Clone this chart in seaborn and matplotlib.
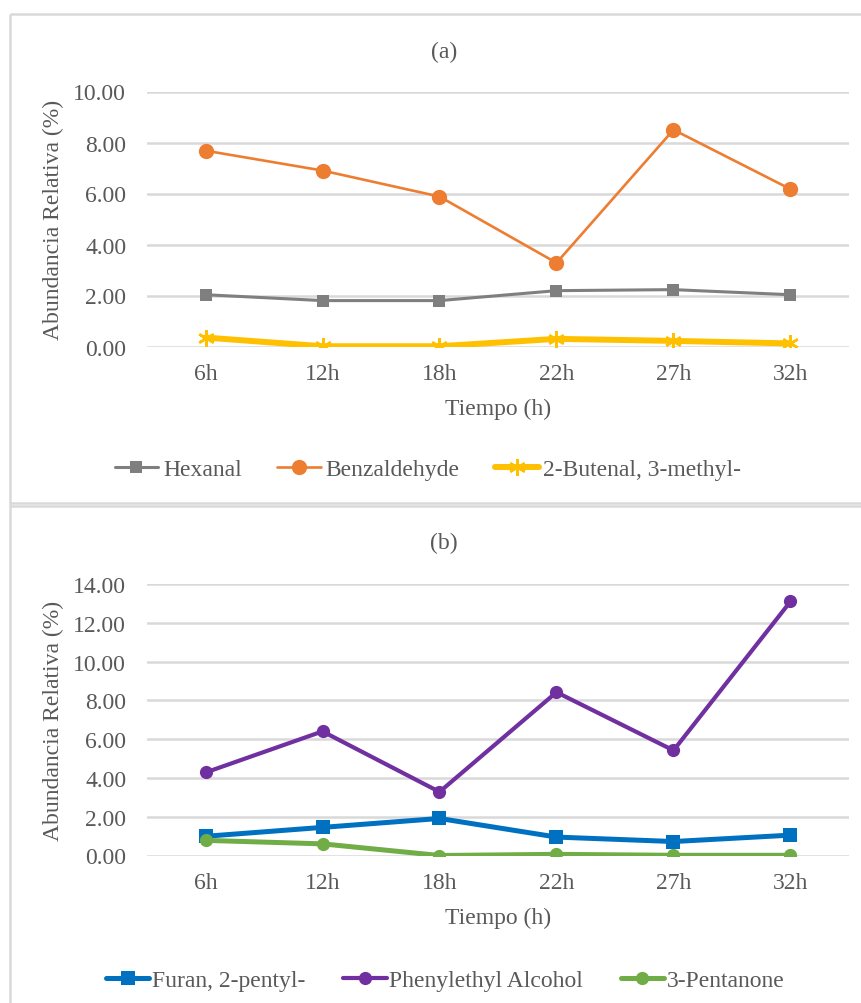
import matplotlib
matplotlib.use("Agg")
import matplotlib.pyplot as plt
from matplotlib.lines import Line2D
import seaborn as sns

# Sampling times and relative abundances (%)
tiempos = ["6h", "12h", "18h", "22h", "27h", "32h"]

hexanal = [2.03, 1.80, 1.80, 2.19, 2.23, 2.03]
benzaldehyde = [7.68, 6.90, 5.88, 3.28, 8.50, 6.17]
butenal_3_methyl = [0.35, 0.01, 0.01, 0.30, 0.22, 0.12]

furan_2_pentyl = [0.99, 1.45, 1.91, 0.95, 0.72, 1.05]
phenylethyl_alcohol = [4.28, 6.40, 3.28, 8.42, 5.42, 13.10]
pentanone_3 = [0.78, 0.60, 0.00, 0.06, 0.01, 0.01]

yticks_a = [0, 2, 4, 6, 8, 10]
yticks_b = [0, 2, 4, 6, 8, 10, 12, 14]

sns.set_theme(style="white")
plt.rcParams["font.family"] = ["Liberation Serif", "DejaVu Serif"]

TEXT = "#595959"
GRID = "#d9d9d9"
FS = 17

W, H = 862, 1004
fig = plt.figure(figsize=(W / 100, H / 100), dpi=100)


def px_axes(x0, x1, y_top, y_bot):
    return fig.add_axes([x0 / W, 1 - y_bot / H, (x1 - x0) / W, (y_bot - y_top) / H])


def style_axes(ax, ticks, label_y):
    ax.set_xlim(-0.5, 5.5)
    ax.set_ylim(ticks[0], ticks[-1])
    ax.set_yticks(ticks)
    ax.set_yticklabels([f"{t:.2f}" for t in ticks])
    ax.yaxis.grid(True, color=GRID, lw=1.8)
    ax.xaxis.grid(False)
    ax.set_axisbelow(True)
    for s in ax.spines.values():
        s.set_visible(False)
    ax.tick_params(axis="both", length=0, colors=TEXT, labelsize=FS)
    ax.tick_params(axis="y", pad=15)
    ax.tick_params(axis="x", pad=12)
    ax.set_ylabel("Abundancia Relativa (%)", color=TEXT, fontsize=FS)
    ax.set_xlabel("Tiempo (h)", color=TEXT, fontsize=FS)
    ax.yaxis.set_label_coords(-0.118, 0.5)
    ax.xaxis.set_label_coords(0.5, label_y)


# Panel (a)
ax1 = px_axes(147, 849, 92.5, 347.5)
sns.lineplot(x=tiempos, y=hexanal, ax=ax1, sort=False, color="#7f7f7f", lw=2.2,
             marker="s", markersize=8, markeredgewidth=0, label="Hexanal")
sns.lineplot(x=tiempos, y=benzaldehyde, ax=ax1, sort=False, color="#ed7d31", lw=1.9,
             marker="o", markersize=11, markeredgewidth=0, label="Benzaldehyde")
sns.lineplot(x=tiempos, y=butenal_3_methyl, ax=ax1, sort=False, color="#ffc000", lw=4.3,
             marker=(6, 2, 0), markersize=12, markeredgewidth=1.8,
             markeredgecolor="#ffc000", label="2-Butenal, 3-methyl-")
style_axes(ax1, yticks_a, -0.20)
h, l = ax1.get_legend_handles_labels()
if ax1.legend_:
    ax1.legend_.remove()
fig.legend(h, l, loc="center", bbox_to_anchor=(428 / W, 1 - 470 / H), ncol=3,
           frameon=False, fontsize=FS, labelcolor=TEXT, handlelength=1.85,
           handletextpad=0.2, columnspacing=1.5)

# Panel (b)
ax2 = px_axes(147, 849, 585, 856.5)
sns.lineplot(x=tiempos, y=furan_2_pentyl, ax=ax2, sort=False, color="#0070c0", lw=3.6,
             marker="s", markersize=10.5, markeredgewidth=0, label="Furan, 2-pentyl-")
sns.lineplot(x=tiempos, y=phenylethyl_alcohol, ax=ax2, sort=False, color="#7030a0", lw=3.0,
             marker="o", markersize=9.5, markeredgewidth=0, label="Phenylethyl Alcohol")
sns.lineplot(x=tiempos, y=pentanone_3, ax=ax2, sort=False, color="#70ad47", lw=3.6,
             marker="o", markersize=9.5, markeredgewidth=0, label="3-Pentanone")
style_axes(ax2, yticks_b, -0.19)
h, l = ax2.get_legend_handles_labels()
if ax2.legend_:
    ax2.legend_.remove()
fig.legend(h, l, loc="center", bbox_to_anchor=(445 / W, 1 - 981 / H), ncol=3,
           frameon=False, fontsize=FS, labelcolor=TEXT, handlelength=1.85,
           handletextpad=0.1, columnspacing=1.6)

# Panel titles
fig.text(444 / W, 1 - 52 / H, "(a)", ha="center", va="center", color=TEXT, fontsize=FS)
fig.text(444 / W, 1 - 543 / H, "(b)", ha="center", va="center", color=TEXT, fontsize=FS)

# Chart-area frames
def frame_line(x0, y0, x1, y1):
    fig.add_artist(Line2D([x0 / W, x1 / W], [1 - y0 / H, 1 - y1 / H],
                          color=GRID, lw=1.8, transform=fig.transFigure,
                          solid_capstyle="butt"))

frame_line(10, 15, W + 5, 15)
frame_line(10, 15, 10, H + 5)
frame_line(10, 503.5, W + 5, 503.5)
frame_line(10, 507, W + 5, 507)

fig.savefig("out.png", dpi=100, facecolor="white")
